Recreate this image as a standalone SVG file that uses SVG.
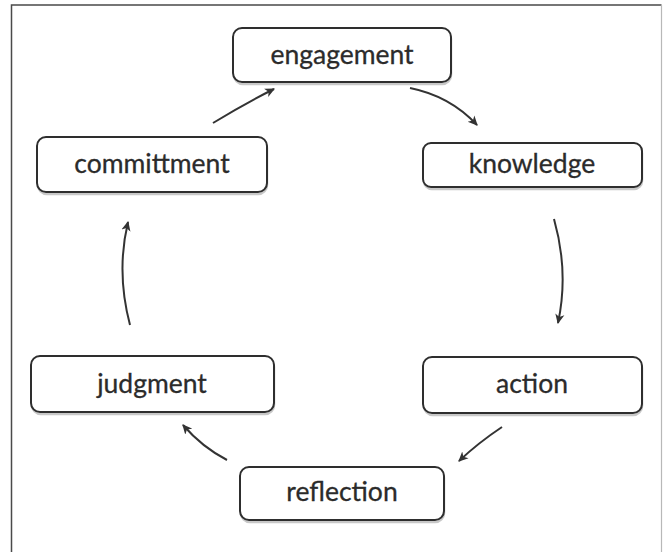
<svg xmlns="http://www.w3.org/2000/svg" width="663" height="552" viewBox="0 0 663 552">
  <style>
    .frame { fill: none; stroke: #4a4a4a; stroke-width: 1.5; }
    .frame-r { fill: none; stroke: #b8b8b8; stroke-width: 1.2; }
    .box { fill: #ffffff; stroke: #2e2e2e; stroke-width: 2; }
    .shadow { fill: none; stroke: #9a9a9a; stroke-width: 2.5; opacity: 0.55; }
    .label { font-family: Lato, "Open Sans", sans-serif; font-size: 26.5px; fill: #2b2b2b; stroke: #2b2b2b; stroke-width: 0.3; text-anchor: middle; }
    .link { fill: none; stroke: #333333; stroke-width: 2; marker-end: url(#head); }
  </style>
  <defs>
    <marker id="head" viewBox="0 0 10 10" refX="8" refY="5" markerWidth="11" markerHeight="11" markerUnits="userSpaceOnUse" orient="auto">
      <path d="M0,0.8 L9,5 L0,9.2 L2.5,5 Z" fill="#333333"/>
    </marker>
  </defs>

  <rect width="663" height="552" fill="#ffffff"/>

  <!-- outer frame (open at the bottom) -->
  <path class="frame" d="M11.5,560 L11.5,5 L661.5,5"/>
  <path class="frame-r" d="M661.5,5 L661.5,560"/>

  <!-- cycle connectors -->
  <g id="connectors">
    <path class="link" d="M213,123 Q244,104 274,89"/>
    <path class="link" d="M410,88 Q450,96 477,125"/>
    <path class="link" d="M554,219 Q569,272 558,323"/>
    <path class="link" d="M502,427 Q478,443 459,461"/>
    <path class="link" d="M227,460 Q202,447 183,425"/>
    <path class="link" d="M130,325 Q116,272 128,222"/>
  </g>

  <g id="engagement">
    <rect class="shadow" x="234" y="30" width="217" height="54" rx="9"/>
    <rect class="box" x="233" y="28" width="218" height="54" rx="9"/>
    <text class="label" x="342" y="64">engagement</text>
  </g>

  <g id="knowledge">
    <rect class="shadow" x="424" y="145" width="218" height="44" rx="8"/>
    <rect class="box" x="423" y="143" width="219" height="44" rx="8"/>
    <text class="label" x="532" y="173">knowledge</text>
  </g>

  <g id="action">
    <rect class="shadow" x="424" y="359" width="218" height="56" rx="9"/>
    <rect class="box" x="423" y="357" width="219" height="56" rx="9"/>
    <text class="label" x="532" y="393">action</text>
  </g>

  <g id="reflection">
    <rect class="shadow" x="241" y="469" width="203" height="53" rx="9"/>
    <rect class="box" x="240" y="467" width="204" height="53" rx="9"/>
    <text class="label" x="342" y="501">reflection</text>
  </g>

  <g id="judgment">
    <rect class="shadow" x="32" y="358" width="242" height="56" rx="9"/>
    <rect class="box" x="31" y="356" width="243" height="56" rx="9"/>
    <text class="label" x="152" y="393">judgment</text>
  </g>

  <g id="committment">
    <rect class="shadow" x="38" y="139" width="229" height="55" rx="9"/>
    <rect class="box" x="37" y="137" width="230" height="55" rx="9"/>
    <text class="label" x="152" y="173">committment</text>
  </g>
</svg>
